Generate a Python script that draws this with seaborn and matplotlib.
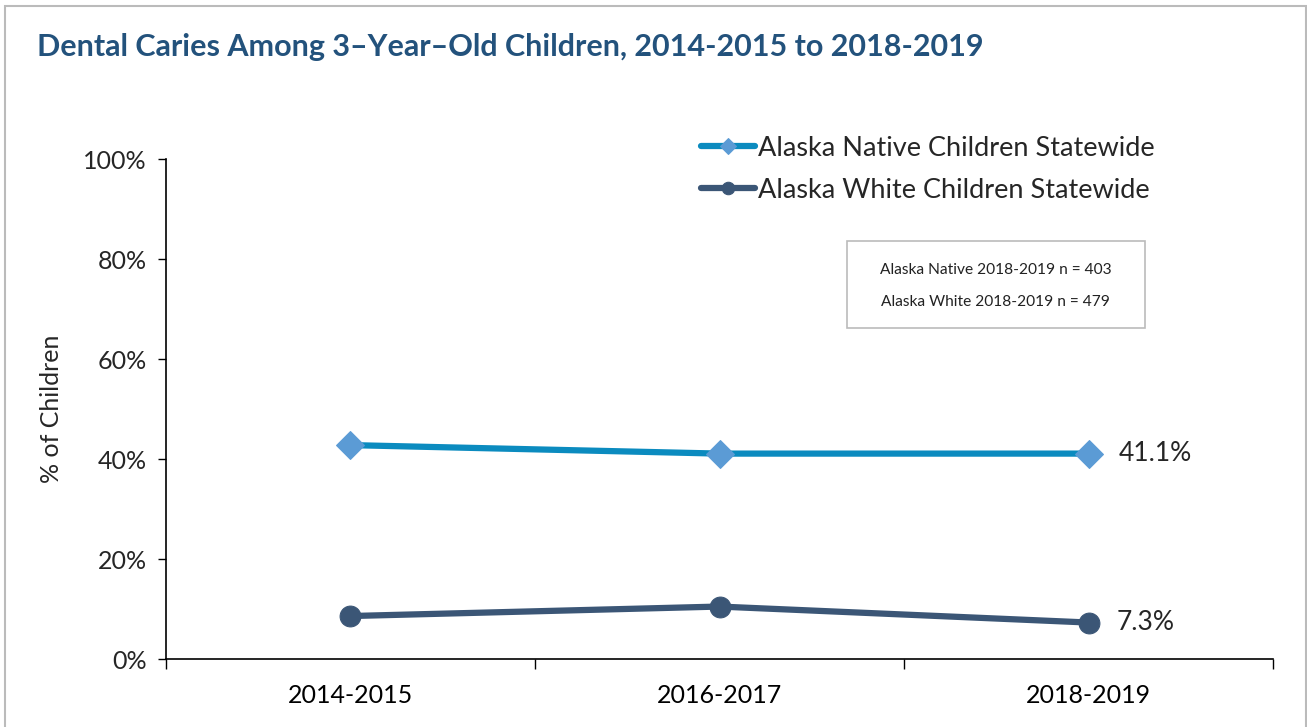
import matplotlib
matplotlib.use("Agg")
import matplotlib.pyplot as plt
import seaborn as sns
import pandas as pd
from matplotlib.patches import Rectangle
from matplotlib.ticker import FixedLocator, PercentFormatter

years = ["2014-2015", "2016-2017", "2018-2019"]
native_vals = [42.8, 41.1, 41.1]
white_vals = [8.6, 10.5, 7.3]
series_names = ["Alaska Native Children Statewide", "Alaska White Children Statewide"]
note_lines = ["Alaska Native 2018-2019 n = 403", "Alaska White 2018-2019 n = 479"]
title = "Dental Caries Among 3\u2013Year\u2013Old Children, 2014-2015 to 2018-2019"

sns.set_theme(style="white")
plt.rcParams["font.family"] = ["Lato", "DejaVu Sans"]

fig = plt.figure(figsize=(13.07, 7.27), dpi=100)
ax = fig.add_axes([0.127, 0.0935, 0.847, 0.6875])

df_n = pd.DataFrame({"x": range(len(years)), "y": native_vals})
df_w = pd.DataFrame({"x": range(len(years)), "y": white_vals})

sns.lineplot(data=df_n, x="x", y="y", ax=ax, color="#0B8BBF", linewidth=4.5,
             marker="D", markersize=14, markerfacecolor="#5B9BD5",
             markeredgecolor="#5B9BD5", label=series_names[0], legend=False)
sns.lineplot(data=df_w, x="x", y="y", ax=ax, color="#3B5676", linewidth=4.5,
             marker="o", markersize=15, markerfacecolor="#3B5676",
             markeredgecolor="#3B5676", label=series_names[1], legend=False)

ax.set_xlim(-0.5, len(years) - 0.5)
ax.set_ylim(0, 100)
ax.set_xticks(range(len(years)))
ax.set_xticklabels(years, fontsize=18)
ax.xaxis.set_minor_locator(FixedLocator([i - 0.5 for i in range(len(years) + 1)]))
ax.tick_params(axis="x", which="major", length=0, pad=18, colors="black")
ax.tick_params(axis="x", which="minor", length=7, width=1, color="black", bottom=True)
ax.set_yticks(range(0, 101, 20))
ax.yaxis.set_major_formatter(PercentFormatter(decimals=0))
ax.tick_params(axis="y", length=6, width=1, color="black", labelsize=18, left=True, pad=8)
ax.set_xlabel("")
ax.set_ylabel("% of Children", fontsize=18, labelpad=14)

for s in ["top", "right"]:
    ax.spines[s].set_visible(False)
for s in ["left", "bottom"]:
    ax.spines[s].set_color("black")
    ax.spines[s].set_linewidth(1.2)

ax.annotate(f"{native_vals[-1]:.1f}%", (len(years) - 1, native_vals[-1]),
            xytext=(22, 0), textcoords="offset points", va="center", ha="left", fontsize=19)
ax.annotate(f"{white_vals[-1]:.1f}%", (len(years) - 1, white_vals[-1]),
            xytext=(20, 0), textcoords="offset points", va="center", ha="left", fontsize=19)

handles, labels = ax.get_legend_handles_labels()
fig.legend(handles, labels, loc="upper left", bbox_to_anchor=(0.528, 0.828),
           frameon=False, fontsize=19.5, handlelength=2.0, handletextpad=0.1,
           labelspacing=0.62, borderaxespad=0, markerscale=0.6)

fig.patches.append(Rectangle((0.648, 0.549), 0.228, 0.12, transform=fig.transFigure,
                             facecolor="white", edgecolor="#BBBBBB", linewidth=1.2))
fig.text(0.762, 0.628, note_lines[0], ha="center", va="center", fontsize=11.2, color="#222222")
fig.text(0.762, 0.584, note_lines[1], ha="center", va="center", fontsize=11.2, color="#222222")

fig.text(0.028, 0.935, title, ha="left", va="center", fontsize=22,
         fontweight="bold", color="#23527C")

fig.patches.append(Rectangle((0.004, -0.02), 0.995, 1.012, transform=fig.transFigure,
                             facecolor="none", edgecolor="#BBBBBB", linewidth=1.5))

fig.savefig("out.png", dpi=100)
